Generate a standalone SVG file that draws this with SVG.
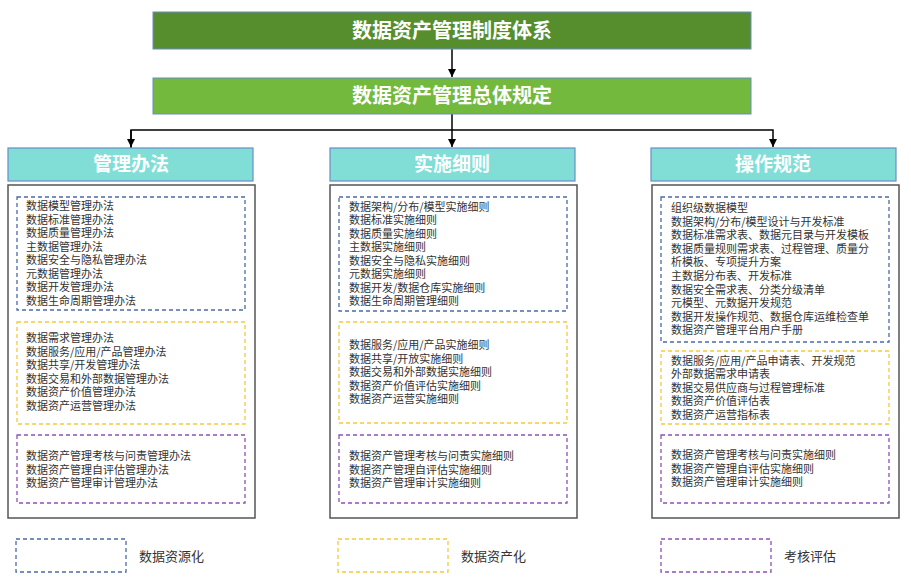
<svg xmlns="http://www.w3.org/2000/svg" width="911" height="586" viewBox="0 0 911 586">
<defs>
<marker id="arr" viewBox="0 0 8 8" refX="8" refY="4" markerWidth="8" markerHeight="8" markerUnits="userSpaceOnUse" orient="auto">
<path d="M0,0 L8,4 L0,8 z" fill="#000"/>
</marker>
<style>
.title{font-family:"Noto Sans CJK SC","Noto Sans",sans-serif;font-weight:bold;fill:#fff;text-anchor:middle}
.item{font-family:"Noto Sans CJK SC","Noto Sans",sans-serif;font-size:11px;fill:#333}
.leg{font-family:"Noto Sans CJK SC","Noto Sans",sans-serif;font-size:13px;fill:#333}
.hdr{fill:#80DED6;stroke:#6A8CC7;stroke-width:1.2}
.cont{fill:#fff;stroke:#555;stroke-width:1.5}
.db{fill:none;stroke:#4A6BA8;stroke-width:1.3;stroke-dasharray:4,3}
.dy{fill:none;stroke:#F5C93A;stroke-width:1.3;stroke-dasharray:4,3}
.dp{fill:none;stroke:#9050B8;stroke-width:1.3;stroke-dasharray:4,3}
.conn{fill:none;stroke:#000;stroke-width:1.5}
</style>
</defs>
<rect width="911" height="586" fill="#fff"/>

<g id="connectors">
<line class="conn" x1="452" y1="49" x2="452" y2="77" marker-end="url(#arr)"/>
<polyline class="conn" points="452,114 452,130"/>
<polyline class="conn" points="131,148 131,130 773,130 773,147" marker-end="url(#arr)"/>
<line class="conn" x1="131" y1="130" x2="131" y2="147" marker-end="url(#arr)"/>
<line class="conn" x1="452" y1="130" x2="452" y2="147" marker-end="url(#arr)"/>
</g>

<g id="root">
<rect x="153" y="12" width="598" height="37" fill="#568E2E" stroke="#6A8CC7" stroke-width="1"/>
<text class="title" x="452" y="38" font-size="20">数据资产管理制度体系</text>
</g>
<g id="general">
<rect x="153" y="78" width="598" height="36" fill="#72B93E" stroke="#6A8CC7" stroke-width="1"/>
<text class="title" x="452" y="103" font-size="20">数据资产管理总体规定</text>
</g>

<g id="col-banfa">
<rect class="hdr" x="8" y="148" width="245" height="33"/>
<text class="title" x="131" y="171" font-size="19">管理办法</text>
<rect class="cont" x="8" y="185" width="247" height="333"/>
<rect class="db" x="17" y="197" width="228" height="113"/>
<text class="item"><tspan x="26" y="210">数据模型管理办法</tspan><tspan x="26" dy="13.5">数据标准管理办法</tspan><tspan x="26" dy="13.5">数据质量管理办法</tspan><tspan x="26" dy="13.5">主数据管理办法</tspan><tspan x="26" dy="13.5">数据安全与隐私管理办法</tspan><tspan x="26" dy="13.5">元数据管理办法</tspan><tspan x="26" dy="13.5">数据开发管理办法</tspan><tspan x="26" dy="13.5">数据生命周期管理办法</tspan></text>
<rect class="dy" x="17" y="322" width="228" height="102"/>
<text class="item"><tspan x="26" y="342">数据需求管理办法</tspan><tspan x="26" dy="13.5">数据服务/应用/产品管理办法</tspan><tspan x="26" dy="13.5">数据共享/开发管理办法</tspan><tspan x="26" dy="13.5">数据交易和外部数据管理办法</tspan><tspan x="26" dy="13.5">数据资产价值管理办法</tspan><tspan x="26" dy="13.5">数据资产运营管理办法</tspan></text>
<rect class="dp" x="17" y="435" width="228" height="68"/>
<text class="item"><tspan x="26" y="460">数据资产管理考核与问责管理办法</tspan><tspan x="26" dy="13.5">数据资产管理自评估管理办法</tspan><tspan x="26" dy="13.5">数据资产管理审计管理办法</tspan></text>
</g>

<g id="col-xize">
<rect class="hdr" x="330" y="148" width="245" height="33"/>
<text class="title" x="452" y="171" font-size="19">实施细则</text>
<rect class="cont" x="330" y="185" width="247" height="333"/>
<rect class="db" x="339" y="197" width="228" height="114"/>
<text class="item"><tspan x="349" y="210.5">数据架构/分布/模型实施细则</tspan><tspan x="349" dy="13.5">数据标准实施细则</tspan><tspan x="349" dy="13.5">数据质量实施细则</tspan><tspan x="349" dy="13.5">主数据实施细则</tspan><tspan x="349" dy="13.5">数据安全与隐私实施细则</tspan><tspan x="349" dy="13.5">元数据实施细则</tspan><tspan x="349" dy="13.5">数据开发/数据仓库实施细则</tspan><tspan x="349" dy="13.5">数据生命周期管理细则</tspan></text>
<rect class="dy" x="339" y="322" width="228" height="101"/>
<text class="item"><tspan x="349" y="349">数据服务/应用/产品实施细则</tspan><tspan x="349" dy="13.5">数据共享/开放实施细则</tspan><tspan x="349" dy="13.5">数据交易和外部数据实施细则</tspan><tspan x="349" dy="13.5">数据资产价值评估实施细则</tspan><tspan x="349" dy="13.5">数据资产运营实施细则</tspan></text>
<rect class="dp" x="339" y="435" width="228" height="68"/>
<text class="item"><tspan x="349" y="460">数据资产管理考核与问责实施细则</tspan><tspan x="349" dy="13.5">数据资产管理自评估实施细则</tspan><tspan x="349" dy="13.5">数据资产管理审计实施细则</tspan></text>
</g>

<g id="col-guifan">
<rect class="hdr" x="651" y="148" width="245" height="33"/>
<text class="title" x="773" y="171" font-size="19">操作规范</text>
<rect class="cont" x="652" y="185" width="247" height="333"/>
<rect class="db" x="661" y="197" width="228" height="145"/>
<text class="item"><tspan x="671" y="212">组织级数据模型</tspan><tspan x="671" dy="13.6">数据架构/分布/模型设计与开发标准</tspan><tspan x="671" dy="13.6">数据标准需求表、数据元目录与开发模板</tspan><tspan x="671" dy="13.6">数据质量规则需求表、过程管理、质量分</tspan><tspan x="671" dy="13.6">析模板、专项提升方案</tspan><tspan x="671" dy="13.6">主数据分布表、开发标准</tspan><tspan x="671" dy="13.6">数据安全需求表、分类分级清单</tspan><tspan x="671" dy="13.6">元模型、元数据开发规范</tspan><tspan x="671" dy="13.6">数据开发操作规范、数据仓库运维检查单</tspan><tspan x="671" dy="13.6">数据资产管理平台用户手册</tspan></text>
<rect class="dy" x="661" y="351" width="228" height="73"/>
<text class="item"><tspan x="671" y="365">数据服务/应用/产品申请表、开发规范</tspan><tspan x="671" dy="13.4">外部数据需求申请表</tspan><tspan x="671" dy="13.4">数据交易供应商与过程管理标准</tspan><tspan x="671" dy="13.4">数据资产价值评估表</tspan><tspan x="671" dy="13.4">数据资产运营指标表</tspan></text>
<rect class="dp" x="661" y="435" width="228" height="68"/>
<text class="item"><tspan x="671" y="459">数据资产管理考核与问责实施细则</tspan><tspan x="671" dy="13.5">数据资产管理自评估实施细则</tspan><tspan x="671" dy="13.5">数据资产管理审计实施细则</tspan></text>
</g>

<g id="legend">
<rect class="db" x="16" y="539" width="110" height="33"/>
<text class="leg" x="139" y="561">数据资源化</text>
<rect class="dy" x="338" y="539" width="110" height="33"/>
<text class="leg" x="461" y="561">数据资产化</text>
<rect class="dp" x="661" y="539" width="110" height="33"/>
<text class="leg" x="784" y="561">考核评估</text>
</g>
</svg>
